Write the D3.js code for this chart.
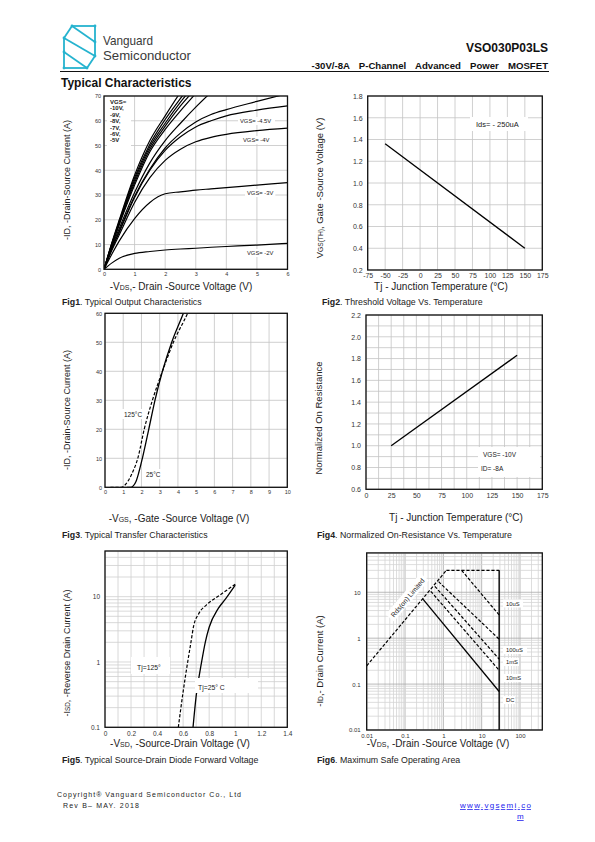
<!DOCTYPE html>
<html><head><meta charset="utf-8">
<script src="https://cdn.jsdelivr.net/npm/d3@7"></script>
<style>body{margin:0;background:#fff}svg{display:block}text{font-family:"Liberation Sans",Arial,sans-serif}</style>
</head><body><script>
// ---------------- DATA ----------------
// Fig1 output characteristics
const fig1Vds = [0,0.25,0.5,1,1.5,2,2.5,3,3.5,4,5,6];
const idVgs10  = [0,10.5,20,38,52,62,71.5,80,null,null,null,null];
const idVgs9   = [0,10.2,19.5,37,50.5,60.5,69,77,null,null,null,null];
const idVgs8   = [0,10,19,36,49.5,59,67.5,75,null,null,null,null];
const idVgs7   = [0,9.7,18.5,35,48.5,57.8,66,73,null,null,null,null];
const idVgs6   = [0,9.4,18,34,47.5,56.5,64,71,null,null,null,null];
const idVgs5   = [0,8.8,16.5,31,43,52,59,65.5,71.5,null,null,null];
const idVgsX   = [0,8.2,15.5,29.5,40.5,49,55,59.5,62.5,64.5,67.8,71];
const idVgs45  = [0,8,15,29,40,48,53.5,57.5,60,62,64.3,66];
const idVgs4   = [0,7.5,14,27,37,44,48.5,51.5,53.3,54.5,56,57];
const idVgs3   = [0,6,11.5,20.5,27,30.5,31.3,32,32.5,33,34,35];
const idVgs2   = [0,2.5,4.5,6.4,7.2,7.8,8.2,8.5,8.9,9.2,9.8,10.5];
const fig1XTicks = [0,1,2,3,4,5,6];
const fig1YTicks = [0,10,20,30,40,50,60,70];
const fig1Legend = ["VGS=","-10V,","-9V,","-8V,","-7V,","-6V,","-5V"];
const fig1CurveLabels = ["VGS= -4.5V","VGS= -4V","VGS= -3V","VGS= -2V"];
// Fig2 threshold voltage
const fig2Temp = [-50,150];
const fig2Vth  = [1.36,0.40];
const fig2XTicks = [-75,-50,-25,0,25,50,75,100,125,150,175];
const fig2YTicks = [0.2,0.4,0.6,0.8,1.0,1.2,1.4,1.6,1.8];
// Fig3 transfer
const fig3Vgs25  = [1.2,1.4,1.55,1.7,1.85,2.05,2.4,2.74,3.15,3.66,4.3,4.6];
const fig3Id25   = [0,0,0.5,2,5,10,20,30,40,50,60,65];
const fig3Vgs125 = [0.3,0.9,1.05,1.25,1.5,1.8,2.15,2.6,3.15,3.75,4.53,4.8];
const fig3Id125  = [0,0,0.5,2,5,10,20,30,40,50,60,64];
const fig3XTicks = [0,1,2,3,4,5,6,7,8,9,10];
const fig3YTicks = [0,10,20,30,40,50,60];
// Fig4 normalized Rds(on)
const fig4Temp = [25,150];
const fig4Rds  = [1.0,1.83];
const fig4XTicks = [0,25,50,75,100,125,150,175];
const fig4YTicks = [0.6,0.8,1.0,1.2,1.4,1.6,1.8,2.0,2.2];
// Fig5 diode forward
const fig5Vsd25  = [0.676,0.70,0.742,0.77,0.80,0.87,0.92,1.0];
const fig5Isd25  = [0.1,0.3,1,2,3.4,6.6,8.9,15];
const fig5Vsd125 = [0.563,0.60,0.635,0.66,0.68,0.72,0.78,0.88,1.0];
const fig5Isd125 = [0.1,0.35,1,2,3.5,5.5,7.5,10.5,15.5];
const fig5XTicks = [0,0.2,0.4,0.6,0.8,1,1.2,1.4];
const fig5YTicks = [0.1,1,10];
// Fig6 SOA
const soaRdsV = [0.01,1.2],   soaRdsI = [0.25,30];
const soaTopV = [1.2,28.6],   soaTopI = [30,30];
const soaVmaxV = [28.6,28.6], soaVmaxI = [0.01,30];
const soa10usV = [3.0,28.6],  soa10usI = [30,3.2];
const soa100usV = [0.75,28.6], soa100usI = [17,0.95];
const soa1msV = [0.6,28.6],   soa1msI = [13.5,0.35];
const soa10msV = [0.47,28.6], soa10msI = [10.5,0.2];
const soaDcV = [0.29,28.6],   soaDcI = [7.2,0.069];
const soaLabels = ["10uS","100uS","1mS","10mS","DC"];
const fig6XTicks = [0.01,0.1,1,10,100];
const fig6YTicks = [0.01,0.1,1,10];

// ---------------- DRAWING ----------------
const svg = d3.select("body").append("svg").attr("width",595).attr("height",842).style("background","#fff");
const defs = svg.append("defs");
const SANS = '"Liberation Sans",Arial,sans-serif';
const SERIF = '"Liberation Serif","Times New Roman",serif';
let clipN = 0;

function logGrid(lo, hi){
  const out=[];
  for(let e=Math.floor(Math.log10(lo)); e<=Math.ceil(Math.log10(hi)); e++){
    for(let m=1;m<10;m++){const v=m*Math.pow(10,e); if(v>=lo*0.999 && v<=hi*1.001) out.push({v, major:m===1});}
  }
  return out;
}

function panel(o){
  const g = svg.append("g");
  const [xa,xb] = o.xs.range(); const [yb,ya] = o.ys.range();
  const gridX = o.gridX.map(d => typeof d==="number"?{v:d,major:true}:d);
  const gridY = o.gridY.map(d => typeof d==="number"?{v:d,major:true}:d);
  g.selectAll(null).data(gridX).join("line")
    .attr("x1",d=>o.xs(d.v)).attr("x2",d=>o.xs(d.v)).attr("y1",ya).attr("y2",yb)
    .attr("stroke",d=>d.major?o.majorColor:o.minorColor).attr("stroke-width",0.8);
  g.selectAll(null).data(gridY).join("line")
    .attr("y1",d=>o.ys(d.v)).attr("y2",d=>o.ys(d.v)).attr("x1",xa).attr("x2",xb)
    .attr("stroke",d=>d.major?o.majorColor:o.minorColor).attr("stroke-width",0.8);
  const ax = g.append("g").attr("transform",`translate(0,${yb})`)
    .call(d3.axisBottom(o.xs).tickValues(o.xTicks).tickFormat(o.xFmt).tickSize(0).tickPadding(o.xPad));
  const ay = g.append("g").attr("transform",`translate(${xa},0)`)
    .call(d3.axisLeft(o.ys).tickValues(o.yTicks).tickFormat(o.yFmt).tickSize(0).tickPadding(o.yPad));
  [ax,ay].forEach(a=>{a.select(".domain").remove(); a.attr("font-size",o.fs).attr("font-family",o.ff);
    a.selectAll("text").attr("fill","#333");});
  const id = "clip"+(clipN++);
  defs.append("clipPath").attr("id",id).append("rect").attr("x",xa).attr("y",ya).attr("width",xb-xa).attr("height",yb-ya);
  const plot = g.append("g").attr("clip-path",`url(#${id})`);
  return {g, plot, frame(){ g.append("rect").attr("x",xa).attr("y",ya).attr("width",xb-xa).attr("height",yb-ya)
      .attr("fill","none").attr("stroke","#111").attr("stroke-width",1.3); }};
}

function curve(p, xs, ys, X, Y, dash, w){
  const pts = X.map((x,i)=>[x,Y[i]]);
  p.plot.append("path").datum(pts)
    .attr("d", d3.line().defined(d=>d[1]!=null).x(d=>xs(d[0])).y(d=>ys(d[1])).curve(d3.curveMonotoneX))
    .attr("fill","none").attr("stroke","#000").attr("stroke-width",w||1.3)
    .attr("stroke-dasharray",dash?"3.2,1.8":null);
}
function seg(p, xs, ys, X, Y, dash, w){
  const pts = X.map((x,i)=>[x,Y[i]]);
  p.plot.append("path").datum(pts).attr("d", d3.line().x(d=>xs(d[0])).y(d=>ys(d[1])))
    .attr("fill","none").attr("stroke","#000").attr("stroke-width",w||1.3)
    .attr("stroke-dasharray",dash?"3.2,1.8":null);
}
function label(g, x, y, txt, fs, ff){
  return g.append("text").attr("x",x).attr("y",y).attr("font-size",fs).attr("font-family",ff||SANS)
    .attr("fill","#222").text(txt);
}
function whiteBox(g,x,y,w,h){ g.append("rect").attr("x",x).attr("y",y).attr("width",w).attr("height",h).attr("fill","#fff"); }
function titleX(cx, y, parts, fs){
  const t = svg.append("text").attr("x",cx).attr("y",y).attr("text-anchor","middle").attr("font-size",fs).attr("fill","#222");
  parts.forEach(p=>{ t.append("tspan").attr("font-size", p.sub?fs*0.7:fs).text(p.t); });
  return t;
}
function titleY(cx, cy, parts, fs){
  const t = svg.append("text").attr("transform",`translate(${cx},${cy}) rotate(-90)`).attr("text-anchor","middle")
    .attr("font-size",fs).attr("fill","#222");
  parts.forEach(p=>{ t.append("tspan").attr("font-size", p.sub?fs*0.7:fs).text(p.t); });
  return t;
}
function caption(x, y, bold, rest){
  const t = svg.append("text").attr("x",x).attr("y",y).attr("font-size",8.8).attr("fill","#222");
  t.append("tspan").attr("font-weight","bold").text(bold);
  t.append("tspan").text(rest);
}
const plain = d => String(d);

// ---- Header ----
const logo = svg.append("g").attr("stroke","#25b3cf").attr("stroke-width",1.8).attr("fill","none");
const L = {A:[72,26],B:[95,26],C:[64,38],D:[95,42],E:[64,52],F:[95,56],G:[64,68],H:[87,68]};
[["A","B"],["A","C"],["C","E"],["A","D"],["C","F"],["B","D"],["D","F"],["E","G"],["G","H"],["H","F"],["E","H"]]
  .forEach(([a,b])=>logo.append("line").attr("x1",L[a][0]).attr("y1",L[a][1]).attr("x2",L[b][0]).attr("y2",L[b][1]));
Object.values(L).forEach(p=>logo.append("circle").attr("cx",p[0]).attr("cy",p[1]).attr("r",1.4).attr("fill","#25b3cf").attr("stroke","none"));
svg.append("text").attr("x",103).attr("y",45).attr("font-family",'"Open Sans",sans-serif').attr("font-size",13).attr("fill","#3a3a3a")
  .attr("textLength",50).attr("lengthAdjust","spacingAndGlyphs").text("Vanguard");
svg.append("text").attr("x",103).attr("y",60).attr("font-family",'"Open Sans",sans-serif').attr("font-size",13).attr("fill","#3a3a3a")
  .attr("textLength",88).attr("lengthAdjust","spacingAndGlyphs").text("Semiconductor");
svg.append("text").attr("x",548).attr("y",52).attr("text-anchor","end").attr("font-weight","bold").attr("font-size",12).attr("fill","#111").text("VSO030P03LS");
svg.append("text").attr("x",548).attr("y",68.5).attr("text-anchor","end").attr("font-weight","bold").attr("font-size",9.6).attr("fill","#111")
  .attr("word-spacing",6.5).text("-30V/-8A P-Channel Advanced Power MOSFET");
svg.append("line").attr("x1",60).attr("x2",549).attr("y1",71.5).attr("y2",71.5).attr("stroke","#111").attr("stroke-width",1);
svg.append("text").attr("x",61).attr("y",87).attr("font-weight","bold").attr("font-size",12).attr("fill","#111").text("Typical Characteristics");

// ---- Fig1 ----
{
  const xs = d3.scaleLinear([0,6],[104,287.5]);
  const ys = d3.scaleLinear([0,70],[269.3,96]);
  const p = panel({xs,ys,gridX:fig1XTicks,gridY:fig1YTicks,xTicks:fig1XTicks,yTicks:fig1YTicks,
    xFmt:plain,yFmt:plain,xPad:3,yPad:3,fs:5.5,ff:SANS,majorColor:"#c4c4c4",minorColor:"#ddd"});
  [idVgs10,idVgs9,idVgs8,idVgs7,idVgs6,idVgs5,idVgsX,idVgs45,idVgs4,idVgs3,idVgs2].forEach(s=>curve(p,xs,ys,fig1Vds,s,false,1.2));
  whiteBox(p.g,107,98,24,49);
  fig1Legend.forEach((t,i)=>p.g.append("text").attr("x",110).attr("y",104+i*6.4).attr("font-size",6)
    .attr("font-weight","bold").attr("fill","#222").text(t));
  const ly = [123,142,195,255], lx = [240,243,247,247];
  fig1CurveLabels.forEach((t,i)=>{
    whiteBox(p.g,lx[i]-2,ly[i]-6,t.length*3.3+4,8);
    label(p.g,lx[i],ly[i],t,5.8);
  });
  p.frame();
  titleY(70,180,[{t:"-ID, -Drain-Source Current (A)"}],9);
  titleX(181,290,[{t:"-V"},{t:"DS",sub:true},{t:",- Drain -Source Voltage (V)"}],10);
  caption(62,305,"Fig1",". Typical Output Characteristics");
}

// ---- Fig2 ----
{
  const xs = d3.scaleLinear([-75,175],[367.7,542.3]);
  const ys = d3.scaleLinear([0.2,1.8],[270,96]);
  const p = panel({xs,ys,gridX:fig2XTicks,gridY:fig2YTicks,xTicks:fig2XTicks,yTicks:fig2YTicks,
    xFmt:plain,yFmt:d3.format(".1f"),xPad:3,yPad:5,fs:7,ff:SANS,majorColor:"#c4c4c4",minorColor:"#ddd"});
  seg(p,xs,ys,fig2Temp,fig2Vth,false,1.3);
  whiteBox(p.g,470,117,58,14);
  label(p.g,476,127,"Ids= - 250uA",7.5);
  p.frame();
  titleY(323,188,[{t:"V"},{t:"GS(TH)",sub:true},{t:", Gate -Source Voltage (V)"}],9.5);
  titleX(441,290,[{t:"Tj - Junction Temperature (°C)"}],10);
  caption(322,305,"Fig2",". Threshold Voltage Vs. Temperature");
}

// ---- Fig3 ----
{
  const xs = d3.scaleLinear([0,10],[105,287.3]);
  const ys = d3.scaleLinear([0,60],[487.3,313.3]);
  const p = panel({xs,ys,gridX:fig3XTicks,gridY:fig3YTicks,xTicks:fig3XTicks,yTicks:fig3YTicks,
    xFmt:plain,yFmt:plain,xPad:3,yPad:3,fs:5.5,ff:SANS,majorColor:"#c4c4c4",minorColor:"#ddd"});
  curve(p,xs,ys,fig3Vgs125,fig3Id125,true,1.2);
  curve(p,xs,ys,fig3Vgs25,fig3Id25,false,1.3);
  whiteBox(p.g,122,409,24,10);
  label(p.g,124,417,"125°C",6.5);
  whiteBox(p.g,144,469,20,10);
  label(p.g,146,477,"25°C",6.5);
  p.frame();
  titleY(70,410,[{t:"-ID, -Drain-Source Current (A)"}],9);
  titleX(179,522,[{t:"-V"},{t:"GS",sub:true},{t:", -Gate -Source Voltage (V)"}],10);
  caption(62,538,"Fig3",". Typical Transfer Characteristics");
}

// ---- Fig4 ----
{
  const xs = d3.scaleLinear([0,175],[366,542.3]);
  const ys = d3.scaleLinear([0.6,2.2],[489.3,315]);
  const gx = d3.range(0,175.1,12.5), gy = d3.range(6,22.1,1).map(v=>v/10);
  const p = panel({xs,ys,gridX:gx,gridY:gy,xTicks:fig4XTicks,yTicks:fig4YTicks,
    xFmt:plain,yFmt:d3.format(".1f"),xPad:4,yPad:5,fs:7,ff:SANS,majorColor:"#c4c4c4",minorColor:"#ddd"});
  seg(p,xs,ys,fig4Temp,fig4Rds,false,1.3);
  whiteBox(p.g,478,447,62,30);
  label(p.g,483,457,"VGS= -10V",6.5);
  label(p.g,481,471,"ID= -8A",6.5);
  p.frame();
  titleY(322,418,[{t:"Normalized On Resistance"}],9.5);
  titleX(456,521,[{t:"Tj - Junction Temperature (°C)"}],10);
  caption(317,538,"Fig4",". Normalized On-Resistance Vs. Temperature");
}

// ---- Fig5 ----
{
  const xs = d3.scaleLinear([0,1.4],[105,287.3]);
  const ys = d3.scaleLog([0.1,50],[727.3,551]);
  const gx = d3.range(0,15).map(v=>v/10);
  const p = panel({xs,ys,gridX:gx,gridY:logGrid(0.1,50).map(d=>({v:d.v,major:true})),xTicks:fig5XTicks,yTicks:fig5YTicks,
    xFmt:plain,yFmt:plain,xPad:4,yPad:5,fs:6.5,ff:SERIF,majorColor:"#cfcfcf",minorColor:"#ddd"});
  curve(p,xs,ys,fig5Vsd125,fig5Isd125,true,1.2);
  curve(p,xs,ys,fig5Vsd25,fig5Isd25,false,1.3);
  whiteBox(p.g,131,657,39,17);
  label(p.g,137,670,"Tj=125°",6.8,SERIF);
  whiteBox(p.g,195,678,63,15);
  label(p.g,198,690,"Tj=25°  C",6.8,SERIF);
  p.frame();
  titleY(70,653,[{t:"-I"},{t:"SD",sub:true},{t:", -Reverse Drain Current (A)"}],9);
  titleX(180,747,[{t:"-V"},{t:"SD",sub:true},{t:", -Source-Drain Voltage (V)"}],10);
  caption(62,763,"Fig5",". Typical Source-Drain Diode Forward Voltage");
}

// ---- Fig6 ----
{
  const xs = d3.scaleLog([0.01,382],[366.7,542.3]);
  const ys = d3.scaleLog([0.01,72],[730,552.9]);
  const p = panel({xs,ys,gridX:logGrid(0.01,382),gridY:logGrid(0.01,72),xTicks:fig6XTicks,yTicks:fig6YTicks,
    xFmt:plain,yFmt:plain,xPad:4,yPad:6,fs:6,ff:SERIF,majorColor:"#a8a8a8",minorColor:"#d4d4d4"});
  seg(p,xs,ys,soaRdsV,soaRdsI,true,1.2);
  seg(p,xs,ys,soaTopV,soaTopI,true,1.3);
  seg(p,xs,ys,soaVmaxV,soaVmaxI,false,1.4);
  seg(p,xs,ys,soa10usV,soa10usI,true,1.2);
  seg(p,xs,ys,soa100usV,soa100usI,true,1.2);
  seg(p,xs,ys,soa1msV,soa1msI,true,1.2);
  seg(p,xs,ys,soa10msV,soa10msI,true,1.2);
  seg(p,xs,ys,soaDcV,soaDcI,false,1.3);
  const rl = p.g.append("g").attr("transform","translate(408,598) rotate(-50)");
  rl.append("rect").attr("x",-27).attr("y",-6.5).attr("width",54).attr("height",11).attr("fill","#fff");
  rl.append("text").attr("x",0).attr("y",2).attr("text-anchor","middle").attr("font-size",6.8).attr("fill","#222").text("Rds(on) Limited");
  const sy = [605.5,652,664,680,702];
  soaLabels.forEach((t,i)=>{
    whiteBox(p.g,503,sy[i]-6,t.length*4+4,8);
    label(p.g,506,sy[i],t,5.8);
  });
  p.frame();
  titleY(323,661,[{t:"-I"},{t:"D",sub:true},{t:",- Drain Current (A)"}],9.5);
  titleX(438,747,[{t:"-V"},{t:"DS",sub:true},{t:", -Drain -Source Voltage (V)"}],10);
  caption(317,763,"Fig6",". Maximum Safe Operating Area");
}

// ---- Footer ----
svg.append("text").attr("x",57).attr("y",797).attr("font-size",7).attr("fill","#222")
  .attr("textLength",184).attr("lengthAdjust","spacing").text("Copyright® Vanguard Semiconductor Co., Ltd");
svg.append("text").attr("x",63).attr("y",808).attr("font-size",7).attr("fill","#222")
  .attr("textLength",76).attr("lengthAdjust","spacing").text("Rev B– MAY. 2018");
svg.append("text").attr("x",460).attr("y",808).attr("font-size",8).attr("fill","#2222ee").attr("text-decoration","underline")
  .attr("textLength",71).attr("lengthAdjust","spacing").text("www.vgsemi.co");
svg.append("text").attr("x",517).attr("y",819).attr("font-size",8).attr("fill","#2222ee").attr("text-decoration","underline").text("m");
</script></body></html>
